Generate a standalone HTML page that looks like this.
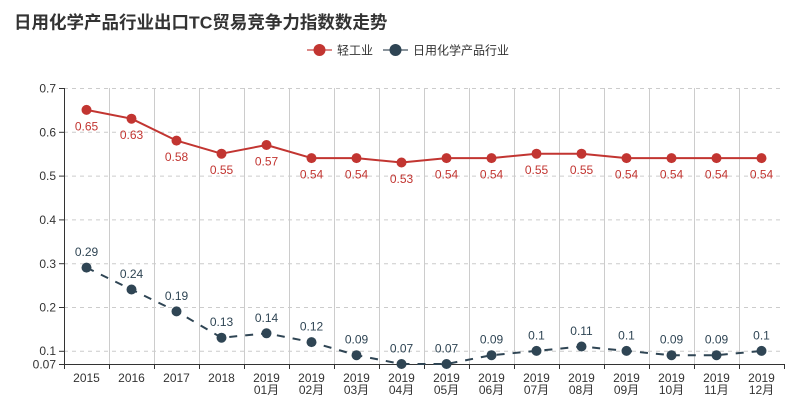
<!DOCTYPE html>
<html>
<head>
<meta charset="utf-8">
<style>
html,body{margin:0;padding:0;background:#fff;}
svg{display:block;font-family:"Liberation Sans","Noto Sans CJK SC",sans-serif;}
</style>
</head>
<body>
<svg width="808" height="416" viewBox="0 0 808 416" xmlns="http://www.w3.org/2000/svg">
<rect width="808" height="416" fill="#fff"/>
<!-- Title -->
<text x="14" y="28.6" font-size="17.5" font-weight="bold" fill="#333">日用化学产品行业出口TC贸易竞争力指数数走势</text>

<!-- Legend -->
<line x1="307" y1="50" x2="332" y2="50" stroke="#dc8a88" stroke-width="2"/>
<circle cx="319.5" cy="50" r="6" fill="#c23531"/>
<text x="337" y="54.4" font-size="12" fill="#333">轻工业</text>
<line x1="383" y1="50" x2="408" y2="50" stroke="#8a949c" stroke-width="2"/>
<circle cx="395.5" cy="50" r="6" fill="#2f4554"/>
<text x="413" y="54.4" font-size="12" fill="#333">日用化学产品行业</text>

<!-- Horizontal grid lines -->
<g stroke="#ccc" stroke-width="1" stroke-dasharray="4 4">
<line x1="64" y1="88.5" x2="784" y2="88.5"/>
<line x1="64" y1="132.3" x2="784" y2="132.3"/>
<line x1="64" y1="176.1" x2="784" y2="176.1"/>
<line x1="64" y1="219.9" x2="784" y2="219.9"/>
<line x1="64" y1="263.7" x2="784" y2="263.7"/>
<line x1="64" y1="307.5" x2="784" y2="307.5"/>
<line x1="64" y1="351.3" x2="784" y2="351.3"/>
</g>
<!-- Vertical grid lines -->
<g stroke="#ccc" stroke-width="1">
<line x1="109.5" y1="88" x2="109.5" y2="364"/>
<line x1="154.5" y1="88" x2="154.5" y2="364"/>
<line x1="199.5" y1="88" x2="199.5" y2="364"/>
<line x1="244.5" y1="88" x2="244.5" y2="364"/>
<line x1="289.5" y1="88" x2="289.5" y2="364"/>
<line x1="334.5" y1="88" x2="334.5" y2="364"/>
<line x1="379.5" y1="88" x2="379.5" y2="364"/>
<line x1="424.5" y1="88" x2="424.5" y2="364"/>
<line x1="469.5" y1="88" x2="469.5" y2="364"/>
<line x1="514.5" y1="88" x2="514.5" y2="364"/>
<line x1="559.5" y1="88" x2="559.5" y2="364"/>
<line x1="604.5" y1="88" x2="604.5" y2="364"/>
<line x1="649.5" y1="88" x2="649.5" y2="364"/>
<line x1="694.5" y1="88" x2="694.5" y2="364"/>
<line x1="739.5" y1="88" x2="739.5" y2="364"/>
</g>

<!-- Axes -->
<g stroke="#333" stroke-width="1">
<line x1="64.5" y1="88" x2="64.5" y2="364.5"/>
<line x1="64" y1="364.5" x2="784.5" y2="364.5"/>
<!-- y ticks -->
<line x1="59" y1="88.5" x2="64" y2="88.5"/>
<line x1="59" y1="132.3" x2="64" y2="132.3"/>
<line x1="59" y1="176.1" x2="64" y2="176.1"/>
<line x1="59" y1="219.9" x2="64" y2="219.9"/>
<line x1="59" y1="263.7" x2="64" y2="263.7"/>
<line x1="59" y1="307.5" x2="64" y2="307.5"/>
<line x1="59" y1="351.3" x2="64" y2="351.3"/>
<line x1="59" y1="364.5" x2="64" y2="364.5"/>
<!-- x ticks -->
<line x1="64.5" y1="364" x2="64.5" y2="369"/>
<line x1="109.5" y1="364" x2="109.5" y2="369"/>
<line x1="154.5" y1="364" x2="154.5" y2="369"/>
<line x1="199.5" y1="364" x2="199.5" y2="369"/>
<line x1="244.5" y1="364" x2="244.5" y2="369"/>
<line x1="289.5" y1="364" x2="289.5" y2="369"/>
<line x1="334.5" y1="364" x2="334.5" y2="369"/>
<line x1="379.5" y1="364" x2="379.5" y2="369"/>
<line x1="424.5" y1="364" x2="424.5" y2="369"/>
<line x1="469.5" y1="364" x2="469.5" y2="369"/>
<line x1="514.5" y1="364" x2="514.5" y2="369"/>
<line x1="559.5" y1="364" x2="559.5" y2="369"/>
<line x1="604.5" y1="364" x2="604.5" y2="369"/>
<line x1="649.5" y1="364" x2="649.5" y2="369"/>
<line x1="694.5" y1="364" x2="694.5" y2="369"/>
<line x1="739.5" y1="364" x2="739.5" y2="369"/>
<line x1="784.5" y1="364" x2="784.5" y2="369"/>
</g>

<!-- Y labels -->
<g font-size="12" fill="#333" text-anchor="end">
<text x="56" y="92.6">0.7</text>
<text x="56" y="136.4">0.6</text>
<text x="56" y="180.2">0.5</text>
<text x="56" y="224">0.4</text>
<text x="56" y="267.8">0.3</text>
<text x="56" y="311.6">0.2</text>
<text x="56" y="355.2">0.1</text>
<text x="56" y="368.4">0.07</text>
</g>

<!-- X labels -->
<g font-size="12" fill="#333" text-anchor="middle">
<text x="86.5" y="382">2015</text>
<text x="131.5" y="382">2016</text>
<text x="176.5" y="382">2017</text>
<text x="221.5" y="382">2018</text>
<text x="266.5" y="382">2019</text><text x="266.5" y="394">01月</text>
<text x="311.5" y="382">2019</text><text x="311.5" y="394">02月</text>
<text x="356.5" y="382">2019</text><text x="356.5" y="394">03月</text>
<text x="401.5" y="382">2019</text><text x="401.5" y="394">04月</text>
<text x="446.5" y="382">2019</text><text x="446.5" y="394">05月</text>
<text x="491.5" y="382">2019</text><text x="491.5" y="394">06月</text>
<text x="536.5" y="382">2019</text><text x="536.5" y="394">07月</text>
<text x="581.5" y="382">2019</text><text x="581.5" y="394">08月</text>
<text x="626.5" y="382">2019</text><text x="626.5" y="394">09月</text>
<text x="671.5" y="382">2019</text><text x="671.5" y="394">10月</text>
<text x="716.5" y="382">2019</text><text x="716.5" y="394">11月</text>
<text x="761.5" y="382">2019</text><text x="761.5" y="394">12月</text>
</g>

<!-- Red series -->
<polyline fill="none" stroke="#c23531" stroke-width="2" stroke-linejoin="round"
points="86.5,109.9 131.5,118.7 176.5,140.6 221.5,153.7 266.5,145 311.5,158.1 356.5,158.1 401.5,162.5 446.5,158.1 491.5,158.1 536.5,153.7 581.5,153.7 626.5,158.1 671.5,158.1 716.5,158.1 761.5,158.1"/>
<g fill="#c23531">
<circle cx="86.5" cy="109.9" r="5"/>
<circle cx="131.5" cy="118.7" r="5"/>
<circle cx="176.5" cy="140.6" r="5"/>
<circle cx="221.5" cy="153.7" r="5"/>
<circle cx="266.5" cy="145" r="5"/>
<circle cx="311.5" cy="158.1" r="5"/>
<circle cx="356.5" cy="158.1" r="5"/>
<circle cx="401.5" cy="162.5" r="5"/>
<circle cx="446.5" cy="158.1" r="5"/>
<circle cx="491.5" cy="158.1" r="5"/>
<circle cx="536.5" cy="153.7" r="5"/>
<circle cx="581.5" cy="153.7" r="5"/>
<circle cx="626.5" cy="158.1" r="5"/>
<circle cx="671.5" cy="158.1" r="5"/>
<circle cx="716.5" cy="158.1" r="5"/>
<circle cx="761.5" cy="158.1" r="5"/>
</g>
<g font-size="12" fill="#c23531" text-anchor="middle">
<text x="86.5" y="130.3">0.65</text>
<text x="131.5" y="139.1">0.63</text>
<text x="176.5" y="161">0.58</text>
<text x="221.5" y="174.1">0.55</text>
<text x="266.5" y="165.4">0.57</text>
<text x="311.5" y="178.5">0.54</text>
<text x="356.5" y="178.5">0.54</text>
<text x="401.5" y="182.9">0.53</text>
<text x="446.5" y="178.5">0.54</text>
<text x="491.5" y="178.5">0.54</text>
<text x="536.5" y="174.1">0.55</text>
<text x="581.5" y="174.1">0.55</text>
<text x="626.5" y="178.5">0.54</text>
<text x="671.5" y="178.5">0.54</text>
<text x="716.5" y="178.5">0.54</text>
<text x="761.5" y="178.5">0.54</text>
</g>

<!-- Dark series -->
<polyline fill="none" stroke="#2f4554" stroke-width="2" stroke-dasharray="8 8" stroke-linejoin="round"
points="86.5,267.6 131.5,289.5 176.5,311.4 221.5,337.7 266.5,333.3 311.5,342.1 356.5,355.2 401.5,364 446.5,364 491.5,355.2 536.5,350.9 581.5,346.5 626.5,350.9 671.5,355.2 716.5,355.2 761.5,350.9"/>
<g fill="#2f4554">
<circle cx="86.5" cy="267.6" r="5"/>
<circle cx="131.5" cy="289.5" r="5"/>
<circle cx="176.5" cy="311.4" r="5"/>
<circle cx="221.5" cy="337.7" r="5"/>
<circle cx="266.5" cy="333.3" r="5"/>
<circle cx="311.5" cy="342.1" r="5"/>
<circle cx="356.5" cy="355.2" r="5"/>
<circle cx="401.5" cy="364" r="5"/>
<circle cx="446.5" cy="364" r="5"/>
<circle cx="491.5" cy="355.2" r="5"/>
<circle cx="536.5" cy="350.9" r="5"/>
<circle cx="581.5" cy="346.5" r="5"/>
<circle cx="626.5" cy="350.9" r="5"/>
<circle cx="671.5" cy="355.2" r="5"/>
<circle cx="716.5" cy="355.2" r="5"/>
<circle cx="761.5" cy="350.9" r="5"/>
</g>
<g font-size="12" fill="#2f4554" text-anchor="middle">
<text x="86.5" y="256.1">0.29</text>
<text x="131.5" y="278">0.24</text>
<text x="176.5" y="299.9">0.19</text>
<text x="221.5" y="326.2">0.13</text>
<text x="266.5" y="321.8">0.14</text>
<text x="311.5" y="330.6">0.12</text>
<text x="356.5" y="343.7">0.09</text>
<text x="401.5" y="352.5">0.07</text>
<text x="446.5" y="352.5">0.07</text>
<text x="491.5" y="343.7">0.09</text>
<text x="536.5" y="339.4">0.1</text>
<text x="581.5" y="335">0.11</text>
<text x="626.5" y="339.4">0.1</text>
<text x="671.5" y="343.7">0.09</text>
<text x="716.5" y="343.7">0.09</text>
<text x="761.5" y="339.4">0.1</text>
</g>
</svg>
</body>
</html>
